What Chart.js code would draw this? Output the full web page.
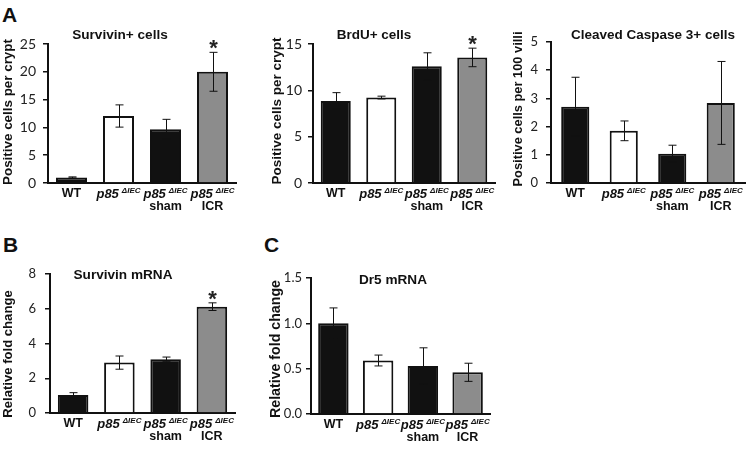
<!DOCTYPE html>
<html>
<head>
<meta charset="utf-8">
<title>p85 ΔIEC survivin / BrdU / caspase / Dr5</title>
<script src="https://cdn.jsdelivr.net/npm/chart.js@4.4.1/dist/chart.umd.min.js"></script>
<style>
    body { margin: 0; background: #fff; width: 750px; height: 449px; position: relative; overflow: hidden; }
    .panel { position: absolute; }
    .letter { position: absolute; font-family: "Liberation Sans", Arial, sans-serif; font-weight: bold; font-size: 21px; line-height: 21px; color: #111; }
</style>
</head>
<body>
<div class="letter" style="left:2px; top:4px">A</div>
<div class="letter" style="left:3px; top:234px">B</div>
<div class="letter" style="left:264px; top:234px">C</div>

<div class="panel" style="left:0; top:0; width:250px; height:230px"><canvas id="survivinCellsChart"></canvas></div>
<div class="panel" style="left:250px; top:0; width:250px; height:230px"><canvas id="brduChart"></canvas></div>
<div class="panel" style="left:500px; top:0; width:250px; height:230px"><canvas id="caspaseChart"></canvas></div>
<div class="panel" style="left:0; top:230px; width:250px; height:219px"><canvas id="survivinMrnaChart"></canvas></div>
<div class="panel" style="left:250px; top:230px; width:250px; height:219px"><canvas id="dr5Chart"></canvas></div>

<script>
// Groups (x axis)
const categories = ['WT', 'p85 ΔIEC', 'p85 ΔIEC sham', 'p85 ΔIEC ICR'];
const labelMain = ['WT', 'p85', 'p85', 'p85'];
const labelSup = ['', 'ΔIEC', 'ΔIEC', 'ΔIEC'];
const labelSub = ['', '', 'sham', 'ICR'];
const barColors = ['#111111', '#ffffff', '#111111', '#8c8c8c'];

// Survivin+ cells per crypt
const survivinCells = [1.0, 12.05, 9.65, 20.0];
const survivinCellsErr = [0.1, 2.0, 1.8, 3.5];
const survivinCellsSig = [false, false, false, true];

// BrdU+ cells per crypt
const brduCells = [8.85, 9.22, 12.6, 13.55];
const brduCellsErr = [0.9, 0.15, 1.45, 1.0];
const brduCellsSig = [false, false, false, true];

// Cleaved caspase 3+ cells per 100 villi
const caspaseCells = [2.7, 1.85, 1.04, 2.84];
const caspaseCellsErr = [1.05, 0.35, 0.3, 1.47];
const caspaseCellsSig = [false, false, false, false];

// Survivin mRNA, relative fold change
const survivinMrna = [1.03, 2.9, 3.1, 6.12];
const survivinMrnaErr = [0.14, 0.38, 0.12, 0.22];
const survivinMrnaSig = [false, false, false, true];

// Dr5 mRNA, relative fold change
const dr5Mrna = [1.0, 0.59, 0.53, 0.46];
const dr5MrnaErr = [0.17, 0.06, 0.2, 0.1];
const dr5MrnaSig = [false, false, false, false];

const boldFont = '"Liberation Sans", Arial, sans-serif';
const tickFont = 'Lato, "Liberation Sans", sans-serif';

// error bars, asterisks, titles and group labels
const figurePlugin = {
    id: 'figureExtras',
    afterDatasetsDraw(chart, args, opts) {
        const ctx = chart.ctx;
        const x = chart.scales.x;
        const y = chart.scales.y;
        const area = chart.chartArea;
        const values = chart.data.datasets[0].data;

        ctx.save();
        // error bars
        ctx.strokeStyle = '#111';
        ctx.lineWidth = 1;
        values.forEach((v, i) => {
            const e = opts.errors[i];
            const cx = Math.round(x.getPixelForValue(i)) + 0.5;
            const top = y.getPixelForValue(v + e);
            const bot = y.getPixelForValue(v - e);
            ctx.beginPath();
            ctx.moveTo(cx, top); ctx.lineTo(cx, bot);
            ctx.moveTo(cx - 4, top); ctx.lineTo(cx + 4, top);
            ctx.moveTo(cx - 4, bot); ctx.lineTo(cx + 4, bot);
            ctx.stroke();
            if (opts.sig[i]) {
                ctx.fillStyle = '#222';
                ctx.font = 'bold 22px ' + boldFont;
                ctx.textAlign = 'center';
                ctx.textBaseline = 'alphabetic';
                ctx.fillText('*', cx, top + 3);
            }
        });

        // panel title
        ctx.fillStyle = '#111';
        ctx.font = 'bold ' + opts.titleSize + 'px ' + boldFont;
        ctx.textAlign = 'center';
        ctx.textBaseline = 'middle';
        ctx.fillText(opts.title, opts.titleX, opts.titleY);

        // y axis title
        ctx.save();
        ctx.translate(opts.yTitleX, opts.yTitleY);
        ctx.rotate(-Math.PI / 2);
        ctx.font = 'bold ' + opts.yTitleSize + 'px ' + boldFont;
        ctx.fillText(opts.yTitle, 0, 0);
        ctx.restore();

        // group labels
        ctx.textBaseline = 'middle';
        labelMain.forEach((m, i) => {
            const cx = x.getPixelForValue(i);
            const ly = area.bottom + 11;
            if (!labelSup[i]) {
                ctx.font = 'bold 12.5px ' + boldFont;
                ctx.textAlign = 'center';
                ctx.fillText(m, cx, ly);
            } else {
                ctx.font = 'italic bold 13px ' + boldFont;
                const wMain = ctx.measureText(m).width;
                ctx.font = 'italic bold 8px ' + boldFont;
                const wSup = ctx.measureText(labelSup[i]).width;
                const gap = 3;
                const start = cx - (wMain + gap + wSup) / 2;
                ctx.textAlign = 'left';
                ctx.font = 'italic bold 13px ' + boldFont;
                ctx.fillText(m, start, ly);
                ctx.font = 'italic bold 8px ' + boldFont;
                ctx.fillText(labelSup[i], start + wMain + gap, ly - 3);
            }
            if (labelSub[i]) {
                ctx.font = 'bold 12.5px ' + boldFont;
                ctx.textAlign = 'center';
                ctx.fillText(labelSub[i], cx, area.bottom + 24);
            }
        });
        ctx.restore();
    }
};

function makeChart(id, values, errors, sig, cfg) {
    return new Chart(document.getElementById(id), {
        type: 'bar',
        data: {
            labels: categories,
            datasets: [{
                data: values,
                backgroundColor: barColors,
                borderColor: '#111',
                borderWidth: 2,
                borderSkipped: 'bottom',
                categoryPercentage: 1,
                barPercentage: cfg.barPct
            }]
        },
        options: {
            responsive: true,
            maintainAspectRatio: false,
            animation: false,
            layout: { padding: cfg.padding },
            plugins: {
                legend: { display: false },
                tooltip: { enabled: false },
                figureExtras: {
                    errors: errors,
                    sig: sig,
                    title: cfg.title,
                    titleX: cfg.titleX,
                    titleY: cfg.titleY,
                    titleSize: cfg.titleSize,
                    yTitle: cfg.yTitle,
                    yTitleX: cfg.yTitleX,
                    yTitleY: cfg.yTitleY,
                    yTitleSize: cfg.yTitleSize
                }
            },
            scales: {
                x: {
                    grid: { display: false, drawTicks: false },
                    border: { display: true, color: '#111', width: 2 },
                    ticks: { display: false },
                    afterFit: s => { s.height = 0; s.paddingLeft = 0; s.paddingRight = 0; }
                },
                y: {
                    min: 0,
                    max: cfg.max,
                    ticks: {
                        stepSize: cfg.step,
                        color: '#222',
                        padding: cfg.tickPad,
                        font: { family: tickFont, size: cfg.tickSize },
                        callback: cfg.tickFmt || (v => v)
                    },
                    grid: { display: true, drawOnChartArea: false, drawTicks: true, tickLength: 5, color: '#111', lineWidth: 1.5 },
                    border: { display: true, color: '#111', width: 2 },
                    afterFit: s => { s.width = cfg.yWidth; s.paddingTop = 0; s.paddingBottom = 0; }
                }
            }
        },
        plugins: [figurePlugin]
    });
}

makeChart('survivinCellsChart', survivinCells, survivinCellsErr, survivinCellsSig, {
    max: 25, step: 5, tickSize: 14, tickPad: 7, yWidth: 48, barPct: 0.66,
    padding: { left: 0, right: 14, top: 44, bottom: 47 },
    title: 'Survivin+ cells', titleX: 120, titleY: 35, titleSize: 13.6,
    yTitle: 'Positive cells per crypt', yTitleX: 8, yTitleY: 112, yTitleSize: 13.4
});

makeChart('brduChart', brduCells, brduCellsErr, brduCellsSig, {
    max: 15, step: 5, tickSize: 14, tickPad: 6, yWidth: 63, barPct: 0.66,
    padding: { left: 0, right: 5, top: 44, bottom: 47 },
    title: 'BrdU+ cells', titleX: 124, titleY: 35, titleSize: 13.5,
    yTitle: 'Positive cells per crypt', yTitleX: 27, yTitleY: 111, yTitleSize: 13.5
});

makeChart('caspaseChart', caspaseCells, caspaseCellsErr, caspaseCellsSig, {
    max: 5, step: 1, tickSize: 13, tickPad: 8, yWidth: 51, barPct: 0.58,
    padding: { left: 0, right: 5, top: 42, bottom: 47 },
    title: 'Cleaved Caspase 3+ cells', titleX: 153, titleY: 35, titleSize: 13.5,
    yTitle: 'Positive cells per 100 villi', yTitleX: 18, yTitleY: 109, yTitleSize: 12.85
});

makeChart('survivinMrnaChart', survivinMrna, survivinMrnaErr, survivinMrnaSig, {
    max: 8, step: 2, tickSize: 13, tickPad: 9, yWidth: 50, barPct: 0.66,
    padding: { left: 0, right: 15, top: 44, bottom: 36 },
    title: 'Survivin mRNA', titleX: 123, titleY: 45, titleSize: 13.6,
    yTitle: 'Relative fold change', yTitleX: 8, yTitleY: 124, yTitleSize: 13.1
});

makeChart('dr5Chart', dr5Mrna, dr5MrnaErr, dr5MrnaSig, {
    max: 1.5, step: 0.5, tickSize: 13, tickPad: 4, yWidth: 61, barPct: 0.68,
    padding: { left: 0, right: 10, top: 48, bottom: 35 },
    tickFmt: v => v.toFixed(1),
    title: 'Dr5 mRNA', titleX: 143, titleY: 50, titleSize: 13.6,
    yTitle: 'Relative fold change', yTitleX: 26, yTitleY: 119, yTitleSize: 14.2
});
</script>
</body>
</html>
